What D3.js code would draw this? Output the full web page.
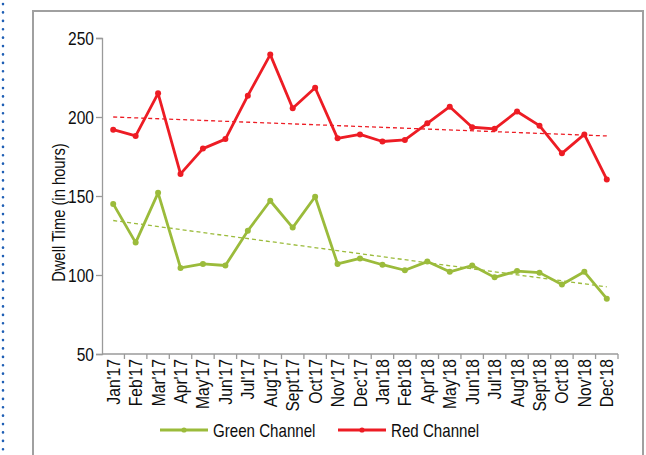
<!DOCTYPE html>
<html>
<head>
<meta charset="utf-8">
<script src="https://cdn.jsdelivr.net/npm/d3@7"></script>
<style>
  html, body { margin: 0; padding: 0; background: #fff; }
  svg { display: block; }
  text { font-family: "Liberation Sans", Arial, sans-serif; fill: #0d0d0d; }
</style>
</head>
<body>
<svg id="chart" width="646" height="455"></svg>
<script>
// Monthly dwell time per channel
const months = ["Jan'17","Feb'17","Mar'17","Apr'17","May'17","Jun'17","Jul'17","Aug'17","Sept'17","Oct'17","Nov'17","Dec'17",
                "Jan'18","Feb'18","Apr'18","May'18","Jun'18","Jul'18","Aug'18","Sept'18","Oct'18","Nov'18","Dec'18"];
const greenChannel = [145, 120.5, 152, 104.5, 107, 106, 128, 147, 130, 149.5, 107, 110.5,
                      106.5, 103, 108.5, 102, 106, 98.5, 102.5, 101.5, 94, 102, 85];
const redChannel = [192, 188, 215, 164, 180, 186, 213.5, 239.5, 205.5, 218.5, 186.5, 189,
                    184.5, 185.5, 196, 206.5, 193.5, 192.5, 203.5, 194.5, 177, 189, 160.5];
// Linear trend endpoints (first month, last month)
const greenTrend = [134.5, 92.5];
const redTrend = [200, 188];
const yTicks = [50, 100, 150, 200, 250];

const GREEN = "#9bbb3b";
const RED = "#ed1c24";
const SQUEEZE = 0.84;   // condensed text width

const svg = d3.select("#chart");

// Outer frame and dotted side rule
svg.append("rect").attr("x", 33).attr("y", 11).attr("width", 610).attr("height", 460)
  .attr("fill", "none").attr("stroke", "#a0a0a0").attr("stroke-width", 2);
svg.append("line").attr("x1", 3).attr("x2", 3).attr("y1", 4).attr("y2", 455)
  .attr("stroke", "#1f5fb5").attr("stroke-width", 2.6).attr("stroke-dasharray", "0.1,8.3")
  .attr("stroke-linecap", "round");

const plot = { left: 102, right: 618, top: 38, bottom: 354 };

const x = d3.scaleBand().domain(months).range([plot.left, plot.right]);
const y = d3.scaleLinear().domain([50, 250]).range([plot.bottom, plot.top]);
const cx = m => x(m) + x.bandwidth() / 2;

// Y axis
const yAxis = svg.append("g").attr("transform", `translate(${plot.left},0)`)
  .call(d3.axisLeft(y).tickValues(yTicks).tickSize(6).tickPadding(0));
yAxis.select(".domain").attr("stroke", "#9a9a9a").attr("stroke-width", 1.3);
yAxis.selectAll(".tick line").attr("stroke", "#9a9a9a").attr("stroke-width", 1.3);
yAxis.selectAll(".tick text").remove();
yAxis.selectAll(".tick").append("text")
  .attr("transform", `translate(-8,6.5) scale(${SQUEEZE},1)`)
  .attr("text-anchor", "end").attr("font-size", 18.5)
  .text(d => d);

// X axis with ticks at band boundaries
const xAxisG = svg.append("g").attr("transform", `translate(0,${plot.bottom})`);
xAxisG.append("line").attr("x1", plot.left).attr("x2", plot.right)
  .attr("stroke", "#9a9a9a").attr("stroke-width", 1.3);
xAxisG.selectAll("line.tk").data(months.slice(1).concat(["end"])).join("line")
  .attr("class", "tk")
  .attr("x1", (d, i) => plot.left + (i + 1) * x.step())
  .attr("x2", (d, i) => plot.left + (i + 1) * x.step())
  .attr("y1", 0).attr("y2", 5)
  .attr("stroke", "#9a9a9a").attr("stroke-width", 1.3);
xAxisG.selectAll("text").data(months).join("text")
  .attr("transform", d => `translate(${cx(d) + 6.5},5) rotate(-90) scale(${SQUEEZE + 0.03},1)`)
  .attr("text-anchor", "end")
  .attr("font-size", 18)
  .text(d => d);

// Axis title
svg.append("text")
  .attr("transform", `translate(65,212.5) rotate(-90) scale(0.82,1)`)
  .attr("text-anchor", "middle")
  .attr("font-size", 18)
  .text("Dwell Time (in hours)");

// Trend lines
function trend(vals, color) {
  svg.append("line")
    .attr("x1", cx(months[0])).attr("y1", y(vals[0]))
    .attr("x2", cx(months[months.length - 1])).attr("y2", y(vals[1]))
    .attr("stroke", color).attr("stroke-width", 1.3).attr("stroke-dasharray", "4,3");
}
trend(redTrend, RED);
trend(greenTrend, GREEN);

// Series lines with markers
const line = d3.line().x((d, i) => cx(months[i])).y(d => y(d));
function series(vals, color) {
  svg.append("path").datum(vals).attr("d", line)
    .attr("fill", "none").attr("stroke", color).attr("stroke-width", 2.8)
    .attr("stroke-linejoin", "round");
  svg.append("g").selectAll("circle").data(vals).join("circle")
    .attr("cx", (d, i) => cx(months[i])).attr("cy", d => y(d)).attr("r", 3)
    .attr("fill", color);
}
series(greenChannel, GREEN);
series(redChannel, RED);

// Legend
const legend = [
  { name: "Green Channel", color: GREEN, x0: 160 },
  { name: "Red Channel", color: RED, x0: 338 }
];
const lg = svg.append("g").selectAll("g").data(legend).join("g")
  .attr("transform", d => `translate(${d.x0},430)`);
lg.append("line").attr("x1", 0).attr("x2", 48).attr("y1", 0).attr("y2", 0)
  .attr("stroke", d => d.color).attr("stroke-width", 2.8);
lg.append("circle").attr("cx", 24).attr("cy", 0).attr("r", 2.6).attr("fill", d => d.color);
lg.append("text").attr("transform", `translate(53,6.5) scale(${SQUEEZE},1)`)
  .attr("font-size", 18).text(d => d.name);
</script>
</body>
</html>
